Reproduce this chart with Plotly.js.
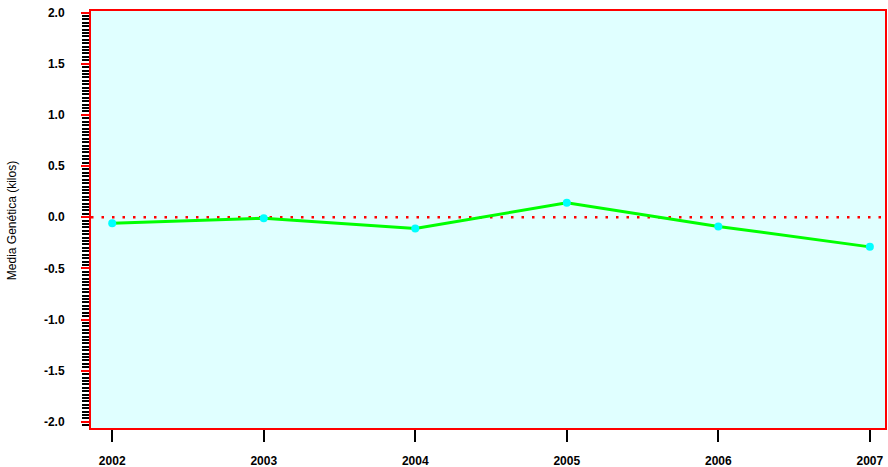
<!DOCTYPE html>
<html>
<head>
<meta charset="utf-8">
<script src="https://cdn.plot.ly/plotly-3.0.1.min.js"></script>
<style>html,body{margin:0;padding:0;background:#fff;}#chart{width:888px;height:467px;}</style>
</head>
<body>
<div id="chart"></div>
<script>
var years = [2002, 2003, 2004, 2005, 2006, 2007];
var mediaGenetica = [-0.06, -0.01, -0.11, 0.14, -0.09, -0.29];
var yTickVals = [-2.0, -1.5, -1.0, -0.5, 0.0, 0.5, 1.0, 1.5, 2.0];
var yTickText = ['-2.0', '-1.5', '-1.0', '-0.5', '0.0', '0.5', '1.0', '1.5', '2.0'];
var yTitle = 'Media Genética (kilos)';

var trace = {
  x: years,
  y: mediaGenetica,
  type: 'scatter',
  mode: 'lines+markers',
  line: {color: '#00ff00', width: 3},
  marker: {color: '#00ffff', size: 8},
  hoverinfo: 'x+y'
};

var layout = {
  width: 888,
  height: 467,
  margin: {l: 91, r: 3, t: 11, b: 39},
  paper_bgcolor: '#ffffff',
  plot_bgcolor: '#e0ffff',
  showlegend: false,
  font: {family: 'Liberation Sans, Arial, sans-serif', size: 12, color: '#000'},
  xaxis: {
    range: [2001.86, 2007.1],
    tickvals: years,
    ticktext: years.map(String),
    showgrid: false,
    zeroline: false,
    showline: true,
    linecolor: '#ff0000',
    linewidth: 2,
    mirror: true,
    ticks: 'outside',
    ticklen: 12,
    tickwidth: 2,
    tickcolor: '#000',
    ticklabelstandoff: 9,
    tickfont: {family: 'Liberation Sans, Arial, sans-serif', size: 12, color: '#000', weight: 'bold'}
  },
  yaxis: {
    range: [-2.06, 2.015],
    tickvals: yTickVals,
    ticktext: yTickText,
    showgrid: false,
    zeroline: false,
    showline: true,
    linecolor: '#ff0000',
    linewidth: 2,
    mirror: true,
    ticks: 'outside',
    ticklen: 8,
    tickwidth: 2,
    tickcolor: '#ff0000',
    ticklabelstandoff: 14,
    tickfont: {family: 'Liberation Sans, Arial, sans-serif', size: 12, color: '#000', weight: 'bold'},
    minor: {ticks: 'outside', tick0: 0, dtick: 1/30, ticklen: 7, tickwidth: 2, tickcolor: '#000', showgrid: false}
  },
  annotations: [{
    text: yTitle, xref: 'paper', yref: 'y', x: 0, y: 0,
    xanchor: 'center', yanchor: 'middle', xshift: -79, yshift: -4, textangle: -90,
    showarrow: false,
    font: {family: 'Liberation Sans, Arial, sans-serif', size: 12, color: '#000'}
  }],
  shapes: [{
    type: 'line', xref: 'paper', yref: 'y', x0: 0, x1: 1, y0: 0, y1: 0,
    line: {color: '#ff0000', width: 2.5, dash: '2.5px,8px'},
    layer: 'below'
  }]
};

Plotly.newPlot('chart', [trace], layout, {displayModeBar: false, staticPlot: true});
</script>
</body>
</html>
